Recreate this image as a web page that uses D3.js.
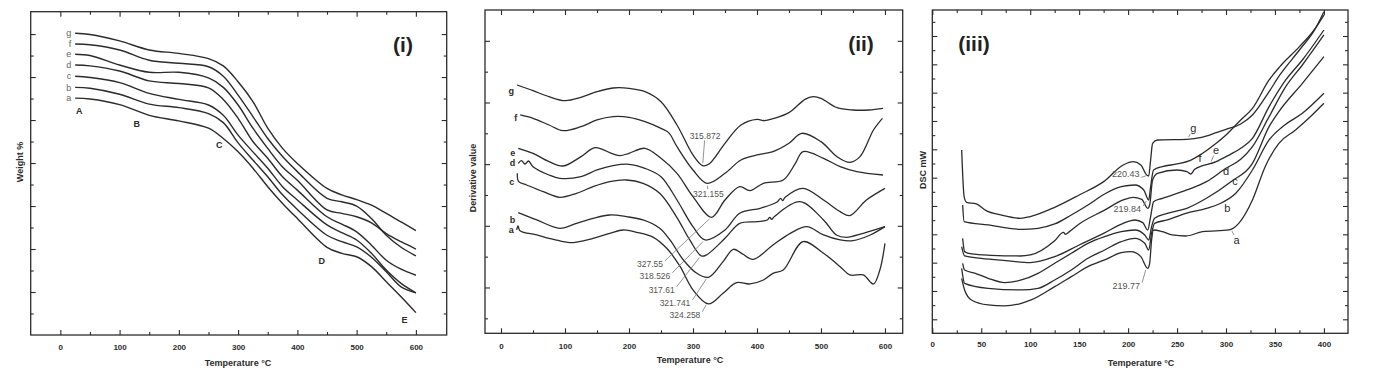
<!DOCTYPE html>
<html>
<head>
<meta charset="utf-8">
<script src="https://cdn.jsdelivr.net/npm/d3@7"></script>
<style>
  body { margin: 0; background: #fff; }
  svg { display: block; font-family: "Liberation Sans", Arial, sans-serif; }
</style>
</head>
<body>
<div id="chart"></div>
<script>
/* CONSTANTS AND GLOBALS */
const width = 1379,
  height = 381,
  ink = "#2b2b2b",
  grey = "#555";

/* DATA */
// (i) TGA: weight % read at a common set of temperatures
const tgaTemp = [25, 50, 100, 150, 200, 250, 275, 300, 325, 350, 375, 400, 450, 475, 500, 525, 550, 575, 600];
const tgaG = [100.2, 99.9, 98.4, 96.3, 95.5, 94.3, 92.6, 88.9, 84.3, 78.1, 73.4, 69.9, 64.1, 62.6, 61.5, 60.2, 58.3, 56.3, 54.3];
const tgaF = [97.7, 97.5, 96.3, 93.9, 93.2, 92.4, 90.2, 85.8, 80.8, 75.7, 71.5, 68.0, 61.8, 61.0, 60.0, 57.1, 53.2, 50.4, 48.4];
const tgaE = [95.3, 95.0, 92.8, 91.1, 91.1, 89.8, 87.6, 83.5, 78.1, 73.4, 69.1, 66.0, 59.1, 58.3, 57.5, 56.1, 53.6, 51.7, 50.0];
const tgaD = [92.8, 92.6, 91.4, 89.1, 88.5, 87.5, 84.8, 80.4, 75.0, 71.1, 66.8, 63.7, 57.5, 55.8, 54.0, 50.9, 47.4, 45.3, 43.9];
const tgaC = [90.2, 89.9, 88.7, 86.2, 84.8, 83.5, 81.1, 76.5, 72.6, 68.8, 64.5, 61.4, 55.6, 53.8, 52.1, 49.0, 45.1, 42.0, 39.8];
const tgaB = [87.6, 87.4, 86.0, 83.7, 82.9, 81.5, 79.4, 74.7, 70.7, 66.8, 62.6, 59.2, 53.2, 51.7, 50.5, 48.1, 44.7, 41.2, 39.8];
const tgaA = [85.1, 84.9, 83.6, 81.1, 79.8, 78.1, 75.7, 72.6, 68.8, 64.5, 60.6, 57.1, 50.4, 49.0, 48.2, 45.9, 42.4, 38.9, 35.2];
const tgaStages = [["A", 32, 82.2], ["B", 129, 79.0], ["C", 268, 74.2], ["D", 441, 47.2], ["E", 581, 33.6]];

// (ii) DTG: [temperature, derivative value]
const dtgG = [[25,7.45],[50,7.28],[75,7.10],[100,6.98],[125,7.08],[150,7.25],[175,7.36],[200,7.35],[225,7.25],[250,6.95],[275,6.25],[300,5.35],[315,5.03],[325,5.08],[350,5.70],[375,6.25],[400,6.42],[412,6.38],[425,6.44],[450,6.62],[475,7.02],[488,7.10],[500,7.05],[525,6.77],[550,6.70],[575,6.70],[597,6.75]];
const dtgF = [[30,6.55],[50,6.45],[75,6.25],[97,6.08],[125,6.20],[150,6.40],[175,6.50],[200,6.48],[225,6.35],[250,6.15],[262,6.02],[275,5.60],[300,4.90],[322,4.50],[350,4.80],[375,5.20],[400,5.35],[425,5.45],[450,5.70],[470,6.00],[500,5.75],[525,5.30],[545,5.13],[561,5.30],[582,6.10],[596,6.45]];
const dtgE = [[27,5.55],[50,5.40],[75,5.15],[97,5.02],[125,5.30],[147,5.57],[175,5.38],[186,5.33],[200,5.40],[225,5.55],[250,5.25],[275,4.80],[300,4.10],[329,3.48],[350,4.00],[373,4.40],[389,4.28],[410,4.50],[441,4.60],[460,5.10],[472,5.45],[504,5.25],[530,5.00],[556,4.85],[597,4.75]];
const dtgD = [[27,5.10],[32,5.18],[37.5,5.08],[43,5.17],[50,5.00],[75,4.75],[92,4.65],[125,4.70],[150,4.90],[175,5.03],[200,5.07],[225,4.95],[250,4.70],[275,4.00],[300,3.20],[319,2.80],[350,3.10],[373,3.60],[405,3.75],[425,3.88],[432,3.95],[437,4.05],[440,3.98],[444,4.08],[472,4.35],[504,4.00],[530,3.65],[545,3.53],[571,4.00],[600,4.35]];
const dtgC = [[25.5,4.80],[27.6,4.55],[40,4.45],[66,4.25],[92,4.08],[118,4.20],[144,4.40],[170,4.55],[196,4.60],[222,4.50],[248,4.20],[274,3.50],[295,2.80],[313,2.32],[321,2.35],[350,2.85],[373,3.30],[400,3.35],[416,3.40],[420,3.48],[423,3.42],[427,3.50],[467,3.95],[504,3.40],[524,2.95],[540,2.88],[566,3.00],[600,3.20]];
const dtgB = [[27,3.62],[56,3.40],[92,3.15],[118,3.30],[144,3.45],[170,3.55],[196,3.50],[222,3.40],[248,3.15],[264,2.80],[285,2.20],[306,1.80],[324,1.68],[347,2.15],[363,2.52],[376,2.40],[394,2.22],[425,2.65],[452,3.00],[478,3.20],[504,2.95],[530,2.80],[550,2.78],[577,2.95],[600,3.20]];
const dtgA = [[24.5,3.10],[26.6,3.22],[29.7,3.08],[56,2.95],[82,2.82],[108,2.72],[144,2.85],[170,3.00],[191,3.10],[212,3.03],[238,2.88],[259,2.55],[280,2.00],[300,1.30],[324,0.88],[347,1.20],[368,1.52],[389,1.48],[410,1.60],[425,1.80],[441,1.90],[472,2.75],[504,2.40],[530,2.00],[545,1.75],[566,1.75],[582,1.48],[592,1.90],[600,2.70]];
// peak text, trough [t, v], label [t, v]
const dtgPeaks = [
  ["315.872", 315, 5.03, 318.8, 5.93],
  ["321.155", 322, 4.50, 324, 4.18],
  ["327.55", 329, 3.48, 232.8, 2.08],
  ["318.526", 319, 2.80, 240.6, 1.72],
  ["317.61", 313, 2.32, 251, 1.30],
  ["321.741", 324, 1.68, 271.9, 0.90],
  ["324.258", 324, 0.88, 287.5, 0.55]
];

// (iii) DSC: [temperature, heat flow]
const dscG = [[30,5.50],[32.5,4.10],[35,3.93],[45,3.88],[55,3.68],[70,3.55],[90,3.45],[100,3.50],[125,3.78],[150,4.15],[175,4.55],[195,5.05],[205,5.15],[213,5.05],[219,4.75],[221,4.72],[223,5.20],[225,5.70],[230,5.80],[260,5.82],[275,5.88],[290,6.02],[300,6.12],[315,6.28],[327,6.55],[344,7.25],[355,7.75],[375,8.50],[390,9.08],[400,9.65]];
const dscF = [[31,3.85],[32.5,3.35],[57,3.25],[91,3.12],[108,3.15],[125,3.28],[142,3.55],[159,3.85],[176,4.18],[193,4.40],[207,4.45],[216,4.30],[221,4.00],[223,4.40],[226,4.90],[235,5.00],[250,5.08],[263,5.18],[275,5.38],[290,5.70],[300,5.95],[315,6.40],[327,6.75],[344,7.60],[355,8.00],[375,8.60],[390,9.10],[400,9.55]];
const dscE = [[31,2.85],[33,2.45],[40,2.38],[60,2.34],[90,2.32],[100,2.35],[125,2.78],[134,3.03],[136,2.97],[140,3.05],[150,3.28],[175,3.68],[195,4.00],[205,4.08],[214,4.02],[220,3.75],[222,3.85],[225,4.60],[230,4.80],[250,4.90],[260,4.85],[264,4.78],[268,4.92],[290,5.15],[300,5.30],[315,5.55],[327,5.85],[344,6.80],[361,7.60],[378,8.20],[400,9.10]];
const dscD = [[30,2.60],[33,2.32],[50,2.25],[75,2.18],[100,2.12],[125,2.30],[150,2.65],[175,3.00],[195,3.30],[207,3.40],[215,3.32],[220,3.10],[223,3.50],[226,3.95],[235,4.05],[260,4.30],[280,4.55],[300,4.95],[315,5.22],[327,5.60],[344,6.50],[361,7.40],[378,8.05],[400,8.95]];
const dscC = [[31,2.10],[33,1.90],[44,1.80],[57,1.65],[74,1.52],[91,1.60],[108,1.80],[125,2.10],[142,2.40],[159,2.70],[176,2.90],[193,3.05],[207,3.10],[217,2.95],[221,2.80],[224,3.20],[227,3.45],[240,3.60],[260,3.75],[280,4.05],[305,4.55],[327,5.10],[344,6.20],[354,6.65],[378,7.50],[400,8.30]];
const dscB = [[30,1.95],[33,1.50],[57,1.35],[91,1.30],[108,1.35],[125,1.60],[142,1.90],[159,2.25],[176,2.50],[193,2.75],[207,2.85],[217,2.70],[221,2.50],[224,3.00],[227,3.30],[240,3.40],[259,3.60],[280,3.75],[293,3.88],[310,4.20],[327,4.90],[344,5.80],[360,6.25],[378,6.60],[400,7.20]];
const dscA = [[30,1.65],[33,1.30],[40,1.00],[57,0.85],[74,0.82],[91,0.90],[101,1.00],[125,1.40],[142,1.70],[159,2.00],[176,2.20],[193,2.42],[203,2.45],[213,2.30],[220,1.95],[222,2.10],[224,2.80],[226,3.10],[235,3.05],[245,2.95],[259,2.92],[276,3.05],[303,3.10],[313,3.30],[327,4.00],[340,5.00],[354,5.70],[371,6.10],[388,6.55],[400,6.90]];
const dscPeaks = [
  ["220.43", 221, 4.72, 197.5, 4.78],
  ["219.84", 221, 4.00, 199.2, 3.72],
  ["219.77", 220, 1.95, 198.2, 1.42]
];
// curve letter, label [t, v]
const dscNames = [["g", 266.6, 6.15], ["f", 273.4, 5.25], ["e", 289.8, 5.50], ["d", 300, 4.88], ["c", 309.2, 4.55], ["b", 301.4, 3.75], ["a", 310.9, 2.78]];

const names = ["g", "f", "e", "d", "c", "b", "a"];

/* SVG */
const svg = d3.select("#chart")
  .append("svg")
  .attr("width", width)
  .attr("height", height);

// frame with inward ticks on all four sides
function drawAxes(x, y, t) {
  const [xl, xr] = x.range(), [yb, yt] = y.range();
  const put = (axis, tx, ty) => svg.append("g")
    .attr("class", "axis")
    .attr("transform", `translate(${tx},${ty})`)
    .call(axis);

  put(d3.axisBottom(x).tickValues(t.xMinor).tickSize(-3).tickFormat(""), 0, yb);
  put(d3.axisBottom(x).tickValues(t.xMajor).tickSize(-5).tickPadding(t.pad).tickFormat(d3.format("d")), 0, yb);
  put(d3.axisTop(x).tickValues(t.xMinor).tickSize(-3).tickFormat(""), 0, yt);
  put(d3.axisTop(x).tickValues(t.xMajor).tickSize(-5).tickFormat(""), 0, yt);
  put(d3.axisLeft(y).tickValues(t.yMinor).tickSize(-3).tickFormat(""), xl, 0);
  put(d3.axisLeft(y).tickValues(t.yMajor).tickSize(-5).tickFormat(""), xl, 0);
  put(d3.axisRight(y).tickValues(t.yMinor).tickSize(-3).tickFormat(""), xr, 0);
  put(d3.axisRight(y).tickValues(t.yMajor).tickSize(-5).tickFormat(""), xr, 0);

  svg.selectAll(".axis .domain").remove();
  svg.selectAll(".axis line").attr("stroke", ink).attr("stroke-width", 1.1);
  svg.selectAll(".axis text")
    .attr("font-family", "Liberation Sans, Arial, sans-serif")
    .attr("font-size", 8)
    .attr("font-weight", "bold")
    .attr("fill", ink);

  svg.append("rect")
    .attr("x", xl).attr("y", yt)
    .attr("width", xr - xl).attr("height", yb - yt)
    .attr("fill", "none")
    .attr("stroke", ink)
    .attr("stroke-width", 1.3);
}

function axisTitle(text, x, y, rotate) {
  svg.append("text")
    .attr("transform", `translate(${x},${y}) rotate(${rotate ? -90 : 0})`)
    .attr("text-anchor", "middle")
    .attr("dy", "0.35em")
    .attr("font-size", 9)
    .attr("font-weight", "bold")
    .attr("fill", ink)
    .text(text);
}

function panelTag(text, x, y) {
  svg.append("text")
    .attr("x", x).attr("y", y)
    .attr("text-anchor", "middle")
    .attr("font-size", 21)
    .attr("font-weight", "bold")
    .attr("fill", "#222")
    .text(text);
}

function drawCurves(series, x, y, curve, sw) {
  const line = d3.line()
    .x(d => x(d[0]))
    .y(d => y(d[1]))
    .curve(curve);
  svg.append("g")
    .selectAll("path")
    .data(series)
    .join("path")
    .attr("fill", "none")
    .attr("stroke", ink)
    .attr("stroke-width", sw)
    .attr("stroke-linejoin", "round")
    .attr("d", d => line(d));
}

function valueAt(s, t) {
  const i = d3.bisector(d => d[0]).left(s, t);
  if (i <= 0) return s[0][1];
  if (i >= s.length) return s[s.length - 1][1];
  const [t0, v0] = s[i - 1], [t1, v1] = s[i];
  return v0 + (v1 - v0) * (t - t0) / (t1 - t0);
}

// label text plus a thin leader line running towards a point on a curve
function note(text, lx, ly, px, py, size, color) {
  const label = svg.append("text")
    .attr("x", lx).attr("y", ly)
    .attr("dy", "0.35em")
    .attr("text-anchor", "middle")
    .attr("font-size", size)
    .attr("fill", color)
    .text(text);
  const w = label.node().getComputedTextLength(), h = size * 0.75;
  const dx = px - lx, dy = py - ly, len = Math.hypot(dx, dy);
  let x1, y1;
  if (Math.abs(dx) > w / 2 + 6) {
    // leader leaves from the label's corner
    x1 = lx + Math.sign(dx) * (w / 2 + 2);
    y1 = ly + Math.sign(dy) * h / 2;
  } else {
    const kx = dx ? (w / 2 + 1.5) / Math.abs(dx) : Infinity;
    const ky = dy ? (h / 2 + 1.5) / Math.abs(dy) : Infinity;
    const k = Math.min(kx, ky);
    x1 = lx + dx * k;
    y1 = ly + dy * k;
  }
  const x2 = px - dx / len * 2.5, y2 = py - dy / len * 2.5;
  if ((x2 - x1) * dx + (y2 - y1) * dy < 2 * len) return; // too short to show
  svg.append("line")
    .attr("x1", x1).attr("y1", y1)
    .attr("x2", x2).attr("y2", y2)
    .attr("stroke", "#777")
    .attr("stroke-width", 0.8);
}

/* PANEL (i) TGA */
const x1s = d3.scaleLinear().domain([-50, 652]).range([30.7, 446.7]);
const y1s = d3.scaleLinear().domain([30, 105.2]).range([335, 11.7]);
drawAxes(x1s, y1s, {
  xMajor: d3.range(0, 601, 100), xMinor: d3.range(50, 600, 100),
  yMajor: d3.range(40, 101, 10), yMinor: d3.range(35, 100, 10), pad: 9
});
const tga = [tgaG, tgaF, tgaE, tgaD, tgaC, tgaB, tgaA].map(vals => vals.map((v, i) => [tgaTemp[i], v]));
drawCurves(tga, x1s, y1s, d3.curveCatmullRom.alpha(0.5), 1.4);
tga.forEach((s, i) => {
  svg.append("text")
    .attr("x", x1s(s[0][0]) - 4)
    .attr("y", y1s(s[0][1]))
    .attr("dy", "0.35em")
    .attr("text-anchor", "end")
    .attr("font-size", 9)
    .attr("fill", "#666")
    .text(names[i]);
});
tgaStages.forEach(([k, t, v]) => {
  svg.append("text")
    .attr("x", x1s(t)).attr("y", y1s(v))
    .attr("dy", "0.35em")
    .attr("text-anchor", "middle")
    .attr("font-size", 9)
    .attr("font-weight", "bold")
    .attr("fill", ink)
    .text(k);
});
panelTag("(i)", 403, 52);
axisTitle("Weight %", 20, 162, true);
axisTitle("Temperature °C", 238, 363, false);

/* PANEL (ii) DTG */
const x2s = d3.scaleLinear().domain([-25, 627.7]).range([485, 902.7]);
const y2s = d3.scaleLinear().domain([0, 9.7]).range([333.3, 10]);
const y2ticks = d3.range(11).map(k => 0.45 + 0.925 * k);
drawAxes(x2s, y2s, {
  xMajor: d3.range(0, 601, 100), xMinor: d3.range(50, 600, 100),
  yMajor: y2ticks.filter((d, k) => k % 2 === 1), yMinor: y2ticks.filter((d, k) => k % 2 === 0 && d < 9.6), pad: 10
});
const dtg = [dtgG, dtgF, dtgE, dtgD, dtgC, dtgB, dtgA];
drawCurves(dtg, x2s, y2s, d3.curveCatmullRom.alpha(0.5), 1.3);
dtg.forEach((s, i) => {
  svg.append("text")
    .attr("x", x2s(s[0][0]) - 3)
    .attr("y", y2s(Math.min(s[0][1], s[1][1])))
    .attr("dy", "0.35em")
    .attr("text-anchor", "end")
    .attr("font-size", 9)
    .attr("font-weight", "bold")
    .attr("fill", ink)
    .text(names[i]);
});
dtgPeaks.forEach(([text, t, v, lt, lv]) => {
  note(text, x2s(lt), y2s(lv), x2s(t), y2s(v), 8.5, grey);
});
panelTag("(ii)", 861, 51);
axisTitle("Derivative value", 473, 178, true);
axisTitle("Temperature °C", 690, 360, false);

/* PANEL (iii) DSC */
const x3s = d3.scaleLinear().domain([0, 424.6]).range([932.3, 1348]);
const y3s = d3.scaleLinear().domain([0, 9.7]).range([333.3, 10]);
const y3ticks = d3.range(22).map(k => 0.42 + 0.425 * k);
drawAxes(x3s, y3s, {
  xMajor: d3.range(0, 401, 50), xMinor: d3.range(25, 400, 50),
  yMajor: y3ticks.filter((d, k) => k % 2 === 0), yMinor: y3ticks.filter((d, k) => k % 2 === 1), pad: 8
});
const dsc = [dscG, dscF, dscE, dscD, dscC, dscB, dscA];
drawCurves(dsc, x3s, y3s, d3.curveMonotoneX, 1.3);
dscPeaks.forEach(([text, t, v, lt, lv]) => {
  note(text, x3s(lt), y3s(lv), x3s(t), y3s(v), 9, grey);
});
dscNames.forEach(([k, lt, lv], i) => {
  const t = lt - 6;
  note(k, x3s(lt), y3s(lv), x3s(t), y3s(valueAt(dsc[i], t)), 11, ink);
});
panelTag("(iii)", 974, 51);
axisTitle("DSC mW", 923, 170, true);
axisTitle("Temperature °C", 1141, 363, false);
</script>
</body>
</html>
